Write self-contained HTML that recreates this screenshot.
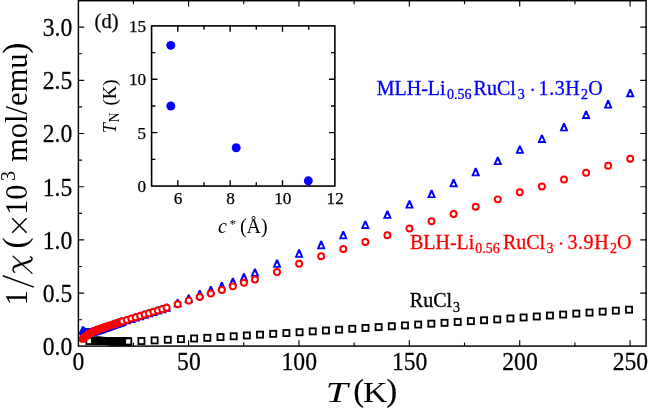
<!DOCTYPE html>
<html><head><meta charset="utf-8"><title>chart</title>
<style>html,body{margin:0;padding:0;background:#fff;}body{width:648px;height:410px;position:relative;overflow:hidden;font-family:"Liberation Serif",serif;}</style></head>
<body>
<svg width="648" height="410" viewBox="0 0 648 410" style="display:block;position:absolute;left:0;top:0;will-change:transform">
<rect x="0" y="0" width="648" height="410" fill="#fff"/>
<g id="blk">
<rect x="86.34" y="337.93" width="6.10" height="6.10" fill="#fff" stroke="#000" stroke-width="1.8"/>
<rect x="91.86" y="337.66" width="6.10" height="6.10" fill="#fff" stroke="#000" stroke-width="1.8"/>
<rect x="92.96" y="337.61" width="6.10" height="6.10" fill="#fff" stroke="#000" stroke-width="1.8"/>
<rect x="94.06" y="337.66" width="6.10" height="6.10" fill="#fff" stroke="#000" stroke-width="1.8"/>
<rect x="95.17" y="337.70" width="6.10" height="6.10" fill="#fff" stroke="#000" stroke-width="1.8"/>
<rect x="96.27" y="337.74" width="6.10" height="6.10" fill="#fff" stroke="#000" stroke-width="1.8"/>
<rect x="97.38" y="337.79" width="6.10" height="6.10" fill="#fff" stroke="#000" stroke-width="1.8"/>
<rect x="98.48" y="337.83" width="6.10" height="6.10" fill="#fff" stroke="#000" stroke-width="1.8"/>
<rect x="99.58" y="337.88" width="6.10" height="6.10" fill="#fff" stroke="#000" stroke-width="1.8"/>
<rect x="100.69" y="337.92" width="6.10" height="6.10" fill="#fff" stroke="#000" stroke-width="1.8"/>
<rect x="101.79" y="337.97" width="6.10" height="6.10" fill="#fff" stroke="#000" stroke-width="1.8"/>
<rect x="102.89" y="338.01" width="6.10" height="6.10" fill="#fff" stroke="#000" stroke-width="1.8"/>
<rect x="104.00" y="338.05" width="6.10" height="6.10" fill="#fff" stroke="#000" stroke-width="1.8"/>
<rect x="105.10" y="338.10" width="6.10" height="6.10" fill="#fff" stroke="#000" stroke-width="1.8"/>
<rect x="106.21" y="338.14" width="6.10" height="6.10" fill="#fff" stroke="#000" stroke-width="1.8"/>
<rect x="107.31" y="338.16" width="6.10" height="6.10" fill="#fff" stroke="#000" stroke-width="1.8"/>
<rect x="108.41" y="338.18" width="6.10" height="6.10" fill="#fff" stroke="#000" stroke-width="1.8"/>
<rect x="109.52" y="338.20" width="6.10" height="6.10" fill="#fff" stroke="#000" stroke-width="1.8"/>
<rect x="110.62" y="338.22" width="6.10" height="6.10" fill="#fff" stroke="#000" stroke-width="1.8"/>
<rect x="111.72" y="338.24" width="6.10" height="6.10" fill="#fff" stroke="#000" stroke-width="1.8"/>
<rect x="112.83" y="338.26" width="6.10" height="6.10" fill="#fff" stroke="#000" stroke-width="1.8"/>
<rect x="113.93" y="338.28" width="6.10" height="6.10" fill="#fff" stroke="#000" stroke-width="1.8"/>
<rect x="115.04" y="338.30" width="6.10" height="6.10" fill="#fff" stroke="#000" stroke-width="1.8"/>
<rect x="116.14" y="338.32" width="6.10" height="6.10" fill="#fff" stroke="#000" stroke-width="1.8"/>
<rect x="117.24" y="338.34" width="6.10" height="6.10" fill="#fff" stroke="#000" stroke-width="1.8"/>
<rect x="118.35" y="338.36" width="6.10" height="6.10" fill="#fff" stroke="#000" stroke-width="1.8"/>
<rect x="119.45" y="338.38" width="6.10" height="6.10" fill="#fff" stroke="#000" stroke-width="1.8"/>
<rect x="120.55" y="338.40" width="6.10" height="6.10" fill="#fff" stroke="#000" stroke-width="1.8"/>
<rect x="121.66" y="338.42" width="6.10" height="6.10" fill="#fff" stroke="#000" stroke-width="1.8"/>
<rect x="122.76" y="338.44" width="6.10" height="6.10" fill="#fff" stroke="#000" stroke-width="1.8"/>
<rect x="123.87" y="338.46" width="6.10" height="6.10" fill="#fff" stroke="#000" stroke-width="1.8"/>
<rect x="124.97" y="338.41" width="6.10" height="6.10" fill="#fff" stroke="#000" stroke-width="1.8"/>
<rect x="125.19" y="338.40" width="6.10" height="6.10" fill="#fff" stroke="#000" stroke-width="1.8"/>
<rect x="138.37" y="337.96" width="6.10" height="6.10" fill="#fff" stroke="#000" stroke-width="1.8"/>
<rect x="151.55" y="337.34" width="6.10" height="6.10" fill="#fff" stroke="#000" stroke-width="1.8"/>
<rect x="164.73" y="336.71" width="6.10" height="6.10" fill="#fff" stroke="#000" stroke-width="1.8"/>
<rect x="177.90" y="336.07" width="6.10" height="6.10" fill="#fff" stroke="#000" stroke-width="1.8"/>
<rect x="191.08" y="335.43" width="6.10" height="6.10" fill="#fff" stroke="#000" stroke-width="1.8"/>
<rect x="204.26" y="334.80" width="6.10" height="6.10" fill="#fff" stroke="#000" stroke-width="1.8"/>
<rect x="217.44" y="334.04" width="6.10" height="6.10" fill="#fff" stroke="#000" stroke-width="1.8"/>
<rect x="230.62" y="333.23" width="6.10" height="6.10" fill="#fff" stroke="#000" stroke-width="1.8"/>
<rect x="243.80" y="332.42" width="6.10" height="6.10" fill="#fff" stroke="#000" stroke-width="1.8"/>
<rect x="256.98" y="331.61" width="6.10" height="6.10" fill="#fff" stroke="#000" stroke-width="1.8"/>
<rect x="270.16" y="330.80" width="6.10" height="6.10" fill="#fff" stroke="#000" stroke-width="1.8"/>
<rect x="283.33" y="329.99" width="6.10" height="6.10" fill="#fff" stroke="#000" stroke-width="1.8"/>
<rect x="296.51" y="329.18" width="6.10" height="6.10" fill="#fff" stroke="#000" stroke-width="1.8"/>
<rect x="309.69" y="328.32" width="6.10" height="6.10" fill="#fff" stroke="#000" stroke-width="1.8"/>
<rect x="322.87" y="327.47" width="6.10" height="6.10" fill="#fff" stroke="#000" stroke-width="1.8"/>
<rect x="336.05" y="326.61" width="6.10" height="6.10" fill="#fff" stroke="#000" stroke-width="1.8"/>
<rect x="349.23" y="325.76" width="6.10" height="6.10" fill="#fff" stroke="#000" stroke-width="1.8"/>
<rect x="362.41" y="324.91" width="6.10" height="6.10" fill="#fff" stroke="#000" stroke-width="1.8"/>
<rect x="375.59" y="324.05" width="6.10" height="6.10" fill="#fff" stroke="#000" stroke-width="1.8"/>
<rect x="388.76" y="323.20" width="6.10" height="6.10" fill="#fff" stroke="#000" stroke-width="1.8"/>
<rect x="401.94" y="322.34" width="6.10" height="6.10" fill="#fff" stroke="#000" stroke-width="1.8"/>
<rect x="415.12" y="321.49" width="6.10" height="6.10" fill="#fff" stroke="#000" stroke-width="1.8"/>
<rect x="428.30" y="320.64" width="6.10" height="6.10" fill="#fff" stroke="#000" stroke-width="1.8"/>
<rect x="441.48" y="319.78" width="6.10" height="6.10" fill="#fff" stroke="#000" stroke-width="1.8"/>
<rect x="454.66" y="318.93" width="6.10" height="6.10" fill="#fff" stroke="#000" stroke-width="1.8"/>
<rect x="467.84" y="318.07" width="6.10" height="6.10" fill="#fff" stroke="#000" stroke-width="1.8"/>
<rect x="481.02" y="317.22" width="6.10" height="6.10" fill="#fff" stroke="#000" stroke-width="1.8"/>
<rect x="494.20" y="316.37" width="6.10" height="6.10" fill="#fff" stroke="#000" stroke-width="1.8"/>
<rect x="507.37" y="315.40" width="6.10" height="6.10" fill="#fff" stroke="#000" stroke-width="1.8"/>
<rect x="520.55" y="314.42" width="6.10" height="6.10" fill="#fff" stroke="#000" stroke-width="1.8"/>
<rect x="533.73" y="313.45" width="6.10" height="6.10" fill="#fff" stroke="#000" stroke-width="1.8"/>
<rect x="546.91" y="312.47" width="6.10" height="6.10" fill="#fff" stroke="#000" stroke-width="1.8"/>
<rect x="560.09" y="311.50" width="6.10" height="6.10" fill="#fff" stroke="#000" stroke-width="1.8"/>
<rect x="573.27" y="310.53" width="6.10" height="6.10" fill="#fff" stroke="#000" stroke-width="1.8"/>
<rect x="586.45" y="309.55" width="6.10" height="6.10" fill="#fff" stroke="#000" stroke-width="1.8"/>
<rect x="599.63" y="308.58" width="6.10" height="6.10" fill="#fff" stroke="#000" stroke-width="1.8"/>
<rect x="612.80" y="307.60" width="6.10" height="6.10" fill="#fff" stroke="#000" stroke-width="1.8"/>
<rect x="625.98" y="306.63" width="6.10" height="6.10" fill="#fff" stroke="#000" stroke-width="1.8"/>
</g>
<g id="blue">
<path d="M78.32 334.49L87.22 334.49L83.67 326.19L81.87 326.19ZM81.27 332.54L84.27 332.54L82.77 329.84Z" fill="#0000ff" fill-rule="evenodd"/><path d="M81.27 332.54L84.27 332.54L82.77 329.84Z" fill="#fff"/>
<path d="M79.42 335.45L88.32 335.45L84.77 327.15L82.97 327.15ZM82.37 333.50L85.37 333.50L83.87 330.80Z" fill="#0000ff" fill-rule="evenodd"/><path d="M82.37 333.50L85.37 333.50L83.87 330.80Z" fill="#fff"/>
<path d="M80.52 336.09L89.42 336.09L85.87 327.79L84.07 327.79ZM83.47 334.14L86.47 334.14L84.97 331.44Z" fill="#0000ff" fill-rule="evenodd"/><path d="M83.47 334.14L86.47 334.14L84.97 331.44Z" fill="#fff"/>
<path d="M81.63 336.30L90.53 336.30L86.98 328.00L85.18 328.00ZM84.58 334.35L87.58 334.35L86.08 331.65Z" fill="#0000ff" fill-rule="evenodd"/><path d="M84.58 334.35L87.58 334.35L86.08 331.65Z" fill="#fff"/>
<path d="M82.73 336.51L91.63 336.51L88.08 328.21L86.28 328.21ZM85.68 334.56L88.68 334.56L87.18 331.86Z" fill="#0000ff" fill-rule="evenodd"/><path d="M85.68 334.56L88.68 334.56L87.18 331.86Z" fill="#fff"/>
<path d="M83.83 336.41L92.73 336.41L89.18 328.11L87.38 328.11ZM86.78 334.46L89.78 334.46L88.28 331.76Z" fill="#0000ff" fill-rule="evenodd"/><path d="M86.78 334.46L89.78 334.46L88.28 331.76Z" fill="#fff"/>
<path d="M84.94 336.30L93.84 336.30L90.29 328.00L88.49 328.00ZM87.89 334.35L90.89 334.35L89.39 331.65Z" fill="#0000ff" fill-rule="evenodd"/><path d="M87.89 334.35L90.89 334.35L89.39 331.65Z" fill="#fff"/>
<path d="M86.04 336.19L94.94 336.19L91.39 327.89L89.59 327.89ZM88.99 334.24L91.99 334.24L90.49 331.54Z" fill="#0000ff" fill-rule="evenodd"/><path d="M88.99 334.24L91.99 334.24L90.49 331.54Z" fill="#fff"/>
<path d="M87.15 336.09L96.05 336.09L92.50 327.79L90.70 327.79ZM90.10 334.14L93.10 334.14L91.60 331.44Z" fill="#0000ff" fill-rule="evenodd"/><path d="M90.10 334.14L93.10 334.14L91.60 331.44Z" fill="#fff"/>
<path d="M88.25 335.77L97.15 335.77L93.60 327.47L91.80 327.47ZM91.20 333.82L94.20 333.82L92.70 331.12Z" fill="#0000ff" fill-rule="evenodd"/><path d="M91.20 333.82L94.20 333.82L92.70 331.12Z" fill="#fff"/>
<path d="M89.35 335.45L98.25 335.45L94.70 327.15L92.90 327.15ZM92.30 333.50L95.30 333.50L93.80 330.80Z" fill="#0000ff" fill-rule="evenodd"/><path d="M92.30 333.50L95.30 333.50L93.80 330.80Z" fill="#fff"/>
<path d="M90.46 335.13L99.36 335.13L95.81 326.83L94.01 326.83ZM93.41 333.18L96.41 333.18L94.91 330.48Z" fill="#0000ff" fill-rule="evenodd"/><path d="M93.41 333.18L96.41 333.18L94.91 330.48Z" fill="#fff"/>
<path d="M91.56 334.81L100.46 334.81L96.91 326.51L95.11 326.51ZM94.51 332.86L97.51 332.86L96.01 330.16Z" fill="#0000ff" fill-rule="evenodd"/><path d="M94.51 332.86L97.51 332.86L96.01 330.16Z" fill="#fff"/>
<path d="M92.66 334.49L101.56 334.49L98.01 326.19L96.21 326.19ZM95.61 332.54L98.61 332.54L97.11 329.84Z" fill="#0000ff" fill-rule="evenodd"/><path d="M95.61 332.54L98.61 332.54L97.11 329.84Z" fill="#fff"/>
<path d="M93.77 334.17L102.67 334.17L99.12 325.87L97.32 325.87ZM96.72 332.22L99.72 332.22L98.22 329.52Z" fill="#0000ff" fill-rule="evenodd"/><path d="M96.72 332.22L99.72 332.22L98.22 329.52Z" fill="#fff"/>
<path d="M94.87 333.85L103.77 333.85L100.22 325.55L98.42 325.55ZM97.82 331.90L100.82 331.90L99.32 329.20Z" fill="#0000ff" fill-rule="evenodd"/><path d="M97.82 331.90L100.82 331.90L99.32 329.20Z" fill="#fff"/>
<path d="M95.98 333.53L104.88 333.53L101.33 325.23L99.53 325.23ZM98.93 331.58L101.93 331.58L100.43 328.88Z" fill="#0000ff" fill-rule="evenodd"/><path d="M98.93 331.58L101.93 331.58L100.43 328.88Z" fill="#fff"/>
<path d="M97.08 333.14L105.98 333.14L102.43 324.84L100.63 324.84ZM100.03 331.19L103.03 331.19L101.53 328.49Z" fill="#0000ff" fill-rule="evenodd"/><path d="M100.03 331.19L103.03 331.19L101.53 328.49Z" fill="#fff"/>
<path d="M98.18 332.76L107.08 332.76L103.53 324.46L101.73 324.46ZM101.13 330.81L104.13 330.81L102.63 328.11Z" fill="#0000ff" fill-rule="evenodd"/><path d="M101.13 330.81L104.13 330.81L102.63 328.11Z" fill="#fff"/>
<path d="M99.29 332.37L108.19 332.37L104.64 324.07L102.84 324.07ZM102.24 330.42L105.24 330.42L103.74 327.72Z" fill="#0000ff" fill-rule="evenodd"/><path d="M102.24 330.42L105.24 330.42L103.74 327.72Z" fill="#fff"/>
<path d="M100.39 331.98L109.29 331.98L105.74 323.68L103.94 323.68ZM103.34 330.03L106.34 330.03L104.84 327.33Z" fill="#0000ff" fill-rule="evenodd"/><path d="M103.34 330.03L106.34 330.03L104.84 327.33Z" fill="#fff"/>
<path d="M101.49 331.59L110.39 331.59L106.84 323.29L105.04 323.29ZM104.44 329.64L107.44 329.64L105.94 326.94Z" fill="#0000ff" fill-rule="evenodd"/><path d="M104.44 329.64L107.44 329.64L105.94 326.94Z" fill="#fff"/>
<path d="M102.60 331.20L111.50 331.20L107.95 322.90L106.15 322.90ZM105.55 329.25L108.55 329.25L107.05 326.55Z" fill="#0000ff" fill-rule="evenodd"/><path d="M105.55 329.25L108.55 329.25L107.05 326.55Z" fill="#fff"/>
<path d="M103.70 330.81L112.60 330.81L109.05 322.51L107.25 322.51ZM106.65 328.86L109.65 328.86L108.15 326.16Z" fill="#0000ff" fill-rule="evenodd"/><path d="M106.65 328.86L109.65 328.86L108.15 326.16Z" fill="#fff"/>
<path d="M104.81 330.43L113.71 330.43L110.16 322.13L108.36 322.13ZM107.76 328.48L110.76 328.48L109.26 325.78Z" fill="#0000ff" fill-rule="evenodd"/><path d="M107.76 328.48L110.76 328.48L109.26 325.78Z" fill="#fff"/>
<path d="M105.91 330.04L114.81 330.04L111.26 321.74L109.46 321.74ZM108.86 328.09L111.86 328.09L110.36 325.39Z" fill="#0000ff" fill-rule="evenodd"/><path d="M108.86 328.09L111.86 328.09L110.36 325.39Z" fill="#fff"/>
<path d="M107.01 329.65L115.91 329.65L112.36 321.35L110.56 321.35ZM109.96 327.70L112.96 327.70L111.46 325.00Z" fill="#0000ff" fill-rule="evenodd"/><path d="M109.96 327.70L112.96 327.70L111.46 325.00Z" fill="#fff"/>
<path d="M108.12 329.26L117.02 329.26L113.47 320.96L111.67 320.96ZM111.07 327.31L114.07 327.31L112.57 324.61Z" fill="#0000ff" fill-rule="evenodd"/><path d="M111.07 327.31L114.07 327.31L112.57 324.61Z" fill="#fff"/>
<path d="M109.22 328.87L118.12 328.87L114.57 320.57L112.77 320.57ZM112.17 326.92L115.17 326.92L113.67 324.22Z" fill="#0000ff" fill-rule="evenodd"/><path d="M112.17 326.92L115.17 326.92L113.67 324.22Z" fill="#fff"/>
<path d="M110.32 328.48L119.22 328.48L115.67 320.18L113.87 320.18ZM113.27 326.53L116.27 326.53L114.77 323.83Z" fill="#0000ff" fill-rule="evenodd"/><path d="M113.27 326.53L116.27 326.53L114.77 323.83Z" fill="#fff"/>
<path d="M111.43 328.10L120.33 328.10L116.78 319.80L114.98 319.80ZM114.38 326.15L117.38 326.15L115.88 323.45Z" fill="#0000ff" fill-rule="evenodd"/><path d="M114.38 326.15L117.38 326.15L115.88 323.45Z" fill="#fff"/>
<path d="M112.53 327.71L121.43 327.71L117.88 319.41L116.08 319.41ZM115.48 325.76L118.48 325.76L116.98 323.06Z" fill="#0000ff" fill-rule="evenodd"/><path d="M115.48 325.76L118.48 325.76L116.98 323.06Z" fill="#fff"/>
<path d="M113.64 327.32L122.54 327.32L118.99 319.02L117.19 319.02ZM116.59 325.37L119.59 325.37L118.09 322.67Z" fill="#0000ff" fill-rule="evenodd"/><path d="M116.59 325.37L119.59 325.37L118.09 322.67Z" fill="#fff"/>
<path d="M114.74 326.93L123.64 326.93L120.09 318.63L118.29 318.63ZM117.69 324.98L120.69 324.98L119.19 322.28Z" fill="#0000ff" fill-rule="evenodd"/><path d="M117.69 324.98L120.69 324.98L119.19 322.28Z" fill="#fff"/>
<path d="M115.84 326.54L124.74 326.54L121.19 318.24L119.39 318.24ZM118.79 324.59L121.79 324.59L120.29 321.89Z" fill="#0000ff" fill-rule="evenodd"/><path d="M118.79 324.59L121.79 324.59L120.29 321.89Z" fill="#fff"/>
<path d="M116.95 326.15L125.85 326.15L122.30 317.85L120.50 317.85ZM119.90 324.20L122.90 324.20L121.40 321.50Z" fill="#0000ff" fill-rule="evenodd"/><path d="M119.90 324.20L122.90 324.20L121.40 321.50Z" fill="#fff"/>
<path d="M118.05 325.77L126.95 325.77L123.40 317.47L121.60 317.47ZM121.00 323.82L124.00 323.82L122.50 321.12Z" fill="#0000ff" fill-rule="evenodd"/><path d="M121.00 323.82L124.00 323.82L122.50 321.12Z" fill="#fff"/>
<path d="M122.47 324.36L131.37 324.36L127.82 316.06L126.02 316.06ZM125.42 322.41L128.42 322.41L126.92 319.71Z" fill="#0000ff" fill-rule="evenodd"/><path d="M125.42 322.41L128.42 322.41L126.92 319.71Z" fill="#fff"/>
<path d="M126.88 322.96L135.78 322.96L132.23 314.66L130.43 314.66ZM129.83 321.01L132.83 321.01L131.33 318.31Z" fill="#0000ff" fill-rule="evenodd"/><path d="M129.83 321.01L132.83 321.01L131.33 318.31Z" fill="#fff"/>
<path d="M131.30 321.55L140.19 321.55L136.65 313.25L134.84 313.25ZM134.25 319.60L137.25 319.60L135.75 316.90Z" fill="#0000ff" fill-rule="evenodd"/><path d="M134.25 319.60L137.25 319.60L135.75 316.90Z" fill="#fff"/>
<path d="M135.71 320.15L144.61 320.15L141.06 311.85L139.26 311.85ZM138.66 318.20L141.66 318.20L140.16 315.50Z" fill="#0000ff" fill-rule="evenodd"/><path d="M138.66 318.20L141.66 318.20L140.16 315.50Z" fill="#fff"/>
<path d="M140.12 318.74L149.02 318.74L145.47 310.44L143.67 310.44ZM143.07 316.79L146.07 316.79L144.57 314.09Z" fill="#0000ff" fill-rule="evenodd"/><path d="M143.07 316.79L146.07 316.79L144.57 314.09Z" fill="#fff"/>
<path d="M144.54 317.36L153.44 317.36L149.89 309.06L148.09 309.06ZM147.49 315.41L150.49 315.41L148.99 312.71Z" fill="#0000ff" fill-rule="evenodd"/><path d="M147.49 315.41L150.49 315.41L148.99 312.71Z" fill="#fff"/>
<path d="M148.96 315.98L157.86 315.98L154.31 307.68L152.51 307.68ZM151.91 314.03L154.91 314.03L153.41 311.33Z" fill="#0000ff" fill-rule="evenodd"/><path d="M151.91 314.03L154.91 314.03L153.41 311.33Z" fill="#fff"/>
<path d="M153.37 314.59L162.27 314.59L158.72 306.29L156.92 306.29ZM156.32 312.64L159.32 312.64L157.82 309.94Z" fill="#0000ff" fill-rule="evenodd"/><path d="M156.32 312.64L159.32 312.64L157.82 309.94Z" fill="#fff"/>
<path d="M157.79 313.21L166.69 313.21L163.14 304.91L161.34 304.91ZM160.74 311.26L163.74 311.26L162.24 308.56Z" fill="#0000ff" fill-rule="evenodd"/><path d="M160.74 311.26L163.74 311.26L162.24 308.56Z" fill="#fff"/>
<path d="M162.20 311.83L171.10 311.83L167.55 303.53L165.75 303.53ZM165.15 309.88L168.15 309.88L166.65 307.18Z" fill="#0000ff" fill-rule="evenodd"/><path d="M165.15 309.88L168.15 309.88L166.65 307.18Z" fill="#fff"/>
<path d="M173.24 307.36L182.14 307.36L178.59 299.06L176.79 299.06ZM176.19 305.41L179.19 305.41L177.69 302.71Z" fill="#0000ff" fill-rule="evenodd"/><path d="M176.19 305.41L179.19 305.41L177.69 302.71Z" fill="#fff"/>
<path d="M184.28 302.68L193.18 302.68L189.63 294.38L187.83 294.38ZM187.23 300.73L190.23 300.73L188.73 298.03Z" fill="#0000ff" fill-rule="evenodd"/><path d="M187.23 300.73L190.23 300.73L188.73 298.03Z" fill="#fff"/>
<path d="M195.31 298.42L204.21 298.42L200.66 290.12L198.86 290.12ZM198.26 296.47L201.26 296.47L199.76 293.77Z" fill="#0000ff" fill-rule="evenodd"/><path d="M198.26 296.47L201.26 296.47L199.76 293.77Z" fill="#fff"/>
<path d="M206.35 294.27L215.25 294.27L211.70 285.97L209.90 285.97ZM209.30 292.32L212.30 292.32L210.80 289.62Z" fill="#0000ff" fill-rule="evenodd"/><path d="M209.30 292.32L212.30 292.32L210.80 289.62Z" fill="#fff"/>
<path d="M217.39 290.33L226.29 290.33L222.74 282.03L220.94 282.03ZM220.34 288.38L223.34 288.38L221.84 285.68Z" fill="#0000ff" fill-rule="evenodd"/><path d="M220.34 288.38L223.34 288.38L221.84 285.68Z" fill="#fff"/>
<path d="M228.43 286.08L237.32 286.08L233.78 277.78L231.97 277.78ZM231.38 284.13L234.38 284.13L232.88 281.43Z" fill="#0000ff" fill-rule="evenodd"/><path d="M231.38 284.13L234.38 284.13L232.88 281.43Z" fill="#fff"/>
<path d="M239.46 281.61L248.36 281.61L244.81 273.31L243.01 273.31ZM242.41 279.66L245.41 279.66L243.91 276.96Z" fill="#0000ff" fill-rule="evenodd"/><path d="M242.41 279.66L245.41 279.66L243.91 276.96Z" fill="#fff"/>
<path d="M250.50 276.82L259.40 276.82L255.85 268.52L254.05 268.52ZM253.45 274.87L256.45 274.87L254.95 272.17Z" fill="#0000ff" fill-rule="evenodd"/><path d="M253.45 274.87L256.45 274.87L254.95 272.17Z" fill="#fff"/>
<path d="M272.58 267.78L281.48 267.78L277.93 259.48L276.13 259.48ZM275.53 265.83L278.53 265.83L277.03 263.13Z" fill="#0000ff" fill-rule="evenodd"/><path d="M275.53 265.83L278.53 265.83L277.03 263.13Z" fill="#fff"/>
<path d="M294.65 257.67L303.55 257.67L300.00 249.37L298.20 249.37ZM297.60 255.72L300.60 255.72L299.10 253.02Z" fill="#0000ff" fill-rule="evenodd"/><path d="M297.60 255.72L300.60 255.72L299.10 253.02Z" fill="#fff"/>
<path d="M316.73 249.16L325.62 249.16L322.07 240.86L320.28 240.86ZM319.68 247.21L322.68 247.21L321.18 244.51Z" fill="#0000ff" fill-rule="evenodd"/><path d="M319.68 247.21L322.68 247.21L321.18 244.51Z" fill="#fff"/>
<path d="M338.80 239.26L347.70 239.26L344.15 230.96L342.35 230.96ZM341.75 237.31L344.75 237.31L343.25 234.61Z" fill="#0000ff" fill-rule="evenodd"/><path d="M341.75 237.31L344.75 237.31L343.25 234.61Z" fill="#fff"/>
<path d="M360.88 228.94L369.78 228.94L366.23 220.64L364.43 220.64ZM363.83 226.99L366.83 226.99L365.33 224.29Z" fill="#0000ff" fill-rule="evenodd"/><path d="M363.83 226.99L366.83 226.99L365.33 224.29Z" fill="#fff"/>
<path d="M382.95 218.83L391.85 218.83L388.30 210.53L386.50 210.53ZM385.90 216.88L388.90 216.88L387.40 214.18Z" fill="#0000ff" fill-rule="evenodd"/><path d="M385.90 216.88L388.90 216.88L387.40 214.18Z" fill="#fff"/>
<path d="M405.03 208.62L413.93 208.62L410.38 200.32L408.58 200.32ZM407.98 206.67L410.98 206.67L409.48 203.97Z" fill="#0000ff" fill-rule="evenodd"/><path d="M407.98 206.67L410.98 206.67L409.48 203.97Z" fill="#fff"/>
<path d="M427.10 198.09L436.00 198.09L432.45 189.79L430.65 189.79ZM430.05 196.14L433.05 196.14L431.55 193.44Z" fill="#0000ff" fill-rule="evenodd"/><path d="M430.05 196.14L433.05 196.14L431.55 193.44Z" fill="#fff"/>
<path d="M449.18 187.23L458.07 187.23L454.52 178.93L452.73 178.93ZM452.12 185.28L455.12 185.28L453.62 182.58Z" fill="#0000ff" fill-rule="evenodd"/><path d="M452.12 185.28L455.12 185.28L453.62 182.58Z" fill="#fff"/>
<path d="M471.25 176.17L480.15 176.17L476.60 167.87L474.80 167.87ZM474.20 174.22L477.20 174.22L475.70 171.52Z" fill="#0000ff" fill-rule="evenodd"/><path d="M474.20 174.22L477.20 174.22L475.70 171.52Z" fill="#fff"/>
<path d="M493.33 165.10L502.23 165.10L498.68 156.80L496.88 156.80ZM496.28 163.15L499.28 163.15L497.78 160.45Z" fill="#0000ff" fill-rule="evenodd"/><path d="M496.28 163.15L499.28 163.15L497.78 160.45Z" fill="#fff"/>
<path d="M515.40 153.82L524.30 153.82L520.75 145.52L518.95 145.52ZM518.35 151.87L521.35 151.87L519.85 149.17Z" fill="#0000ff" fill-rule="evenodd"/><path d="M518.35 151.87L521.35 151.87L519.85 149.17Z" fill="#fff"/>
<path d="M537.47 142.97L546.38 142.97L542.82 134.67L541.02 134.67ZM540.42 141.02L543.42 141.02L541.92 138.32Z" fill="#0000ff" fill-rule="evenodd"/><path d="M540.42 141.02L543.42 141.02L541.92 138.32Z" fill="#fff"/>
<path d="M559.55 131.37L568.45 131.37L564.90 123.07L563.10 123.07ZM562.50 129.42L565.50 129.42L564.00 126.72Z" fill="#0000ff" fill-rule="evenodd"/><path d="M562.50 129.42L565.50 129.42L564.00 126.72Z" fill="#fff"/>
<path d="M581.62 119.03L590.53 119.03L586.98 110.73L585.18 110.73ZM584.58 117.08L587.58 117.08L586.08 114.38Z" fill="#0000ff" fill-rule="evenodd"/><path d="M584.58 117.08L587.58 117.08L586.08 114.38Z" fill="#fff"/>
<path d="M603.70 108.39L612.60 108.39L609.05 100.09L607.25 100.09ZM606.65 106.44L609.65 106.44L608.15 103.74Z" fill="#0000ff" fill-rule="evenodd"/><path d="M606.65 106.44L609.65 106.44L608.15 103.74Z" fill="#fff"/>
<path d="M625.77 97.22L634.68 97.22L631.12 88.92L629.33 88.92ZM628.73 95.27L631.73 95.27L630.23 92.57Z" fill="#0000ff" fill-rule="evenodd"/><path d="M628.73 95.27L631.73 95.27L630.23 92.57Z" fill="#fff"/>
</g>
<g id="red">
<circle cx="82.77" cy="338.96" r="3.0" fill="#fff" stroke="#ff0000" stroke-width="1.95"/>
<circle cx="83.87" cy="338.02" r="3.0" fill="#fff" stroke="#ff0000" stroke-width="1.95"/>
<circle cx="84.97" cy="337.08" r="3.0" fill="#fff" stroke="#ff0000" stroke-width="1.95"/>
<circle cx="86.08" cy="336.14" r="3.0" fill="#fff" stroke="#ff0000" stroke-width="1.95"/>
<circle cx="87.18" cy="335.20" r="3.0" fill="#fff" stroke="#ff0000" stroke-width="1.95"/>
<circle cx="88.28" cy="334.26" r="3.0" fill="#fff" stroke="#ff0000" stroke-width="1.95"/>
<circle cx="89.39" cy="333.32" r="3.0" fill="#fff" stroke="#ff0000" stroke-width="1.95"/>
<circle cx="90.49" cy="332.85" r="3.0" fill="#fff" stroke="#ff0000" stroke-width="1.95"/>
<circle cx="91.60" cy="332.37" r="3.0" fill="#fff" stroke="#ff0000" stroke-width="1.95"/>
<circle cx="92.70" cy="331.90" r="3.0" fill="#fff" stroke="#ff0000" stroke-width="1.95"/>
<circle cx="93.80" cy="331.43" r="3.0" fill="#fff" stroke="#ff0000" stroke-width="1.95"/>
<circle cx="94.91" cy="330.95" r="3.0" fill="#fff" stroke="#ff0000" stroke-width="1.95"/>
<circle cx="96.01" cy="330.48" r="3.0" fill="#fff" stroke="#ff0000" stroke-width="1.95"/>
<circle cx="97.11" cy="330.01" r="3.0" fill="#fff" stroke="#ff0000" stroke-width="1.95"/>
<circle cx="98.22" cy="329.54" r="3.0" fill="#fff" stroke="#ff0000" stroke-width="1.95"/>
<circle cx="99.32" cy="329.06" r="3.0" fill="#fff" stroke="#ff0000" stroke-width="1.95"/>
<circle cx="100.43" cy="328.69" r="3.0" fill="#fff" stroke="#ff0000" stroke-width="1.95"/>
<circle cx="101.53" cy="328.32" r="3.0" fill="#fff" stroke="#ff0000" stroke-width="1.95"/>
<circle cx="102.63" cy="327.95" r="3.0" fill="#fff" stroke="#ff0000" stroke-width="1.95"/>
<circle cx="103.74" cy="327.58" r="3.0" fill="#fff" stroke="#ff0000" stroke-width="1.95"/>
<circle cx="104.84" cy="327.21" r="3.0" fill="#fff" stroke="#ff0000" stroke-width="1.95"/>
<circle cx="105.94" cy="326.84" r="3.0" fill="#fff" stroke="#ff0000" stroke-width="1.95"/>
<circle cx="107.05" cy="326.47" r="3.0" fill="#fff" stroke="#ff0000" stroke-width="1.95"/>
<circle cx="108.15" cy="326.10" r="3.0" fill="#fff" stroke="#ff0000" stroke-width="1.95"/>
<circle cx="109.26" cy="325.73" r="3.0" fill="#fff" stroke="#ff0000" stroke-width="1.95"/>
<circle cx="110.36" cy="325.36" r="3.0" fill="#fff" stroke="#ff0000" stroke-width="1.95"/>
<circle cx="111.46" cy="324.99" r="3.0" fill="#fff" stroke="#ff0000" stroke-width="1.95"/>
<circle cx="112.57" cy="324.62" r="3.0" fill="#fff" stroke="#ff0000" stroke-width="1.95"/>
<circle cx="113.67" cy="324.25" r="3.0" fill="#fff" stroke="#ff0000" stroke-width="1.95"/>
<circle cx="114.77" cy="323.89" r="3.0" fill="#fff" stroke="#ff0000" stroke-width="1.95"/>
<circle cx="115.88" cy="323.52" r="3.0" fill="#fff" stroke="#ff0000" stroke-width="1.95"/>
<circle cx="116.98" cy="323.15" r="3.0" fill="#fff" stroke="#ff0000" stroke-width="1.95"/>
<circle cx="118.09" cy="322.78" r="3.0" fill="#fff" stroke="#ff0000" stroke-width="1.95"/>
<circle cx="119.19" cy="322.41" r="3.0" fill="#fff" stroke="#ff0000" stroke-width="1.95"/>
<circle cx="120.29" cy="322.04" r="3.0" fill="#fff" stroke="#ff0000" stroke-width="1.95"/>
<circle cx="121.40" cy="321.67" r="3.0" fill="#fff" stroke="#ff0000" stroke-width="1.95"/>
<circle cx="122.50" cy="321.30" r="3.0" fill="#fff" stroke="#ff0000" stroke-width="1.95"/>
<circle cx="126.92" cy="319.94" r="3.0" fill="#fff" stroke="#ff0000" stroke-width="1.95"/>
<circle cx="131.33" cy="318.59" r="3.0" fill="#fff" stroke="#ff0000" stroke-width="1.95"/>
<circle cx="135.75" cy="317.24" r="3.0" fill="#fff" stroke="#ff0000" stroke-width="1.95"/>
<circle cx="140.16" cy="315.89" r="3.0" fill="#fff" stroke="#ff0000" stroke-width="1.95"/>
<circle cx="144.57" cy="314.54" r="3.0" fill="#fff" stroke="#ff0000" stroke-width="1.95"/>
<circle cx="148.99" cy="313.19" r="3.0" fill="#fff" stroke="#ff0000" stroke-width="1.95"/>
<circle cx="153.41" cy="311.84" r="3.0" fill="#fff" stroke="#ff0000" stroke-width="1.95"/>
<circle cx="157.82" cy="310.49" r="3.0" fill="#fff" stroke="#ff0000" stroke-width="1.95"/>
<circle cx="162.24" cy="309.13" r="3.0" fill="#fff" stroke="#ff0000" stroke-width="1.95"/>
<circle cx="166.65" cy="307.78" r="3.0" fill="#fff" stroke="#ff0000" stroke-width="1.95"/>
<circle cx="177.69" cy="304.21" r="3.0" fill="#fff" stroke="#ff0000" stroke-width="1.95"/>
<circle cx="188.73" cy="300.64" r="3.0" fill="#fff" stroke="#ff0000" stroke-width="1.95"/>
<circle cx="199.76" cy="297.07" r="3.0" fill="#fff" stroke="#ff0000" stroke-width="1.95"/>
<circle cx="210.80" cy="293.50" r="3.0" fill="#fff" stroke="#ff0000" stroke-width="1.95"/>
<circle cx="221.84" cy="289.92" r="3.0" fill="#fff" stroke="#ff0000" stroke-width="1.95"/>
<circle cx="232.88" cy="286.35" r="3.0" fill="#fff" stroke="#ff0000" stroke-width="1.95"/>
<circle cx="243.91" cy="282.78" r="3.0" fill="#fff" stroke="#ff0000" stroke-width="1.95"/>
<circle cx="254.95" cy="279.48" r="3.0" fill="#fff" stroke="#ff0000" stroke-width="1.95"/>
<circle cx="277.03" cy="271.93" r="3.0" fill="#fff" stroke="#ff0000" stroke-width="1.95"/>
<circle cx="299.10" cy="263.84" r="3.0" fill="#fff" stroke="#ff0000" stroke-width="1.95"/>
<circle cx="321.18" cy="256.29" r="3.0" fill="#fff" stroke="#ff0000" stroke-width="1.95"/>
<circle cx="343.25" cy="248.94" r="3.0" fill="#fff" stroke="#ff0000" stroke-width="1.95"/>
<circle cx="365.33" cy="242.03" r="3.0" fill="#fff" stroke="#ff0000" stroke-width="1.95"/>
<circle cx="387.40" cy="235.22" r="3.0" fill="#fff" stroke="#ff0000" stroke-width="1.95"/>
<circle cx="409.48" cy="228.52" r="3.0" fill="#fff" stroke="#ff0000" stroke-width="1.95"/>
<circle cx="431.55" cy="221.28" r="3.0" fill="#fff" stroke="#ff0000" stroke-width="1.95"/>
<circle cx="453.62" cy="214.04" r="3.0" fill="#fff" stroke="#ff0000" stroke-width="1.95"/>
<circle cx="475.70" cy="206.70" r="3.0" fill="#fff" stroke="#ff0000" stroke-width="1.95"/>
<circle cx="497.78" cy="199.36" r="3.0" fill="#fff" stroke="#ff0000" stroke-width="1.95"/>
<circle cx="519.85" cy="192.34" r="3.0" fill="#fff" stroke="#ff0000" stroke-width="1.95"/>
<circle cx="541.92" cy="186.59" r="3.0" fill="#fff" stroke="#ff0000" stroke-width="1.95"/>
<circle cx="564.00" cy="179.57" r="3.0" fill="#fff" stroke="#ff0000" stroke-width="1.95"/>
<circle cx="586.08" cy="172.76" r="3.0" fill="#fff" stroke="#ff0000" stroke-width="1.95"/>
<circle cx="608.15" cy="165.74" r="3.0" fill="#fff" stroke="#ff0000" stroke-width="1.95"/>
<circle cx="630.23" cy="158.72" r="3.0" fill="#fff" stroke="#ff0000" stroke-width="1.95"/>
</g>
<g stroke="#000" stroke-width="1.15" fill="none" stroke-linecap="butt">
<rect x="78.4" y="0.7" width="567.7" height="345.40000000000003" stroke-width="1.45"/>
<path d="M133.39 346.1V342.5M133.39 0.7V4.3"/>
<path d="M188.57 346.1V340.3M188.57 0.7V6.5"/>
<path d="M243.76 346.1V342.5M243.76 0.7V4.3"/>
<path d="M298.95 346.1V340.3M298.95 0.7V6.5"/>
<path d="M354.14 346.1V342.5M354.14 0.7V4.3"/>
<path d="M409.32 346.1V340.3M409.32 0.7V6.5"/>
<path d="M464.51 346.1V342.5M464.51 0.7V4.3"/>
<path d="M519.70 346.1V340.3M519.70 0.7V6.5"/>
<path d="M574.89 346.1V342.5M574.89 0.7V4.3"/>
<path d="M630.08 346.1V340.3M630.08 0.7V6.5"/>
<path d="M78.4 319.70H82.0M646.1 319.70H642.5"/>
<path d="M78.4 293.10H84.2M646.1 293.10H640.3000000000001"/>
<path d="M78.4 266.50H82.0M646.1 266.50H642.5"/>
<path d="M78.4 239.90H84.2M646.1 239.90H640.3000000000001"/>
<path d="M78.4 213.30H82.0M646.1 213.30H642.5"/>
<path d="M78.4 186.70H84.2M646.1 186.70H640.3000000000001"/>
<path d="M78.4 160.10H82.0M646.1 160.10H642.5"/>
<path d="M78.4 133.50H84.2M646.1 133.50H640.3000000000001"/>
<path d="M78.4 106.90H82.0M646.1 106.90H642.5"/>
<path d="M78.4 80.30H84.2M646.1 80.30H640.3000000000001"/>
<path d="M78.4 53.70H82.0M646.1 53.70H642.5"/>
<path d="M78.4 27.10H84.2M646.1 27.10H640.3000000000001"/>
</g>
<g font-family="Liberation Serif, serif" font-size="25" fill="#000" stroke="#000" stroke-width="0.25">
<text transform="translate(78.50 369.6) scale(0.945 1)" text-anchor="middle">0</text>
<text transform="translate(188.88 369.6) scale(0.945 1)" text-anchor="middle">50</text>
<text transform="translate(299.25 369.6) scale(0.945 1)" text-anchor="middle">100</text>
<text transform="translate(409.62 369.6) scale(0.945 1)" text-anchor="middle">150</text>
<text transform="translate(520.00 369.6) scale(0.945 1)" text-anchor="middle">200</text>
<text transform="translate(630.38 369.6) scale(0.945 1)" text-anchor="middle">250</text>
<text transform="translate(72.2 355.20) scale(0.945 1)" text-anchor="end">0.0</text>
<text transform="translate(72.2 302.00) scale(0.945 1)" text-anchor="end">0.5</text>
<text transform="translate(72.2 248.80) scale(0.945 1)" text-anchor="end">1.0</text>
<text transform="translate(72.2 195.60) scale(0.945 1)" text-anchor="end">1.5</text>
<text transform="translate(72.2 142.40) scale(0.945 1)" text-anchor="end">2.0</text>
<text transform="translate(72.2 89.20) scale(0.945 1)" text-anchor="end">2.5</text>
<text transform="translate(72.2 36.00) scale(0.945 1)" text-anchor="end">3.0</text>
</g>
<g font-family="Liberation Serif, serif" font-size="30.5" fill="#000" stroke="#000" stroke-width="0.3">
<text transform="translate(325.7 401.5) scale(1 0.7692)" font-size="39.65" stroke="none" font-style="italic">T</text>
<text x="353.5" y="401.2" font-size="31.5">(</text>
<text transform="translate(362.9 401.5) scale(1 0.9009)" font-size="33.86" stroke="none" >K</text>
<text x="386.6" y="401.2" font-size="31.5">)</text>
<g transform="translate(26.8 303) rotate(-90)" stroke="none">
<text x="-2.6" y="0">1</text>
<path d="M15.9 7.0L27.3 -24.0" stroke="#000" stroke-width="1.5" fill="none"/>
<g fill="none" stroke="#000" stroke-linecap="round" stroke-linejoin="round">
<path d="M46.8 -13.75L29.6 5.3" stroke-width="1.15"/>
<path d="M30.8 -12.2C31.4 -13.9 34.9 -14.6 36.3 -12.3" stroke-width="1.5"/>
<path d="M36.3 -12.3C37.6 -9.5 40.4 -0.5 41.9 3.2" stroke-width="2.5"/>
<path d="M41.9 3.2C42.9 5.9 45.3 6.0 46.0 3.7" stroke-width="1.5"/>
</g>
<text x="54.6" y="-0.6" font-size="33.5">(</text>
<path d="M70.3 -14.6L84.7 -0.2M70.3 -0.2L84.7 -14.6" stroke="#000" stroke-width="1.5" fill="none"/>
<text x="88.0" y="0">10</text>
<text x="122.0" y="-11.8" font-size="20">3</text>
<text x="141.0" y="0">mol/emu</text>
<text x="249.3" y="-0.6" font-size="33.5">)</text>
</g>
</g>
<rect x="151.6" y="25.9" width="183.25000000000003" height="160.15" fill="#fff" stroke="none"/>
<g stroke="#000" stroke-width="1.4" fill="none">
<rect x="151.6" y="25.9" width="183.25" height="160.15" stroke-width="1.6"/>
<path d="M177.78 186.05V180.25M177.78 25.9V31.7"/>
<path d="M203.96 186.05V182.25M203.96 25.9V29.7"/>
<path d="M230.14 186.05V180.25M230.14 25.9V31.7"/>
<path d="M256.31 186.05V182.25M256.31 25.9V29.7"/>
<path d="M282.49 186.05V180.25M282.49 25.9V31.7"/>
<path d="M308.67 186.05V182.25M308.67 25.9V29.7"/>
<path d="M151.6 159.36H155.4M334.85 159.36H331.05"/>
<path d="M151.6 132.67H157.4M334.85 132.67H329.05"/>
<path d="M151.6 105.98H155.4M334.85 105.98H331.05"/>
<path d="M151.6 79.28H157.4M334.85 79.28H329.05"/>
<path d="M151.6 52.59H155.4M334.85 52.59H331.05"/>
</g>
<g fill="#0000ff">
<circle cx="170.8" cy="45.35" r="4.45"/>
<circle cx="170.8" cy="106.0" r="4.45"/>
<circle cx="236.2" cy="147.75" r="4.45"/>
<circle cx="308.3" cy="180.8" r="4.45"/>
</g>
<g font-family="Liberation Serif, serif" font-size="17.2" fill="#000" stroke="#000" stroke-width="0.25">
<text x="178.08" y="204.3" text-anchor="middle">6</text>
<text x="230.44" y="204.3" text-anchor="middle">8</text>
<text x="282.79" y="204.3" text-anchor="middle">10</text>
<text x="335.15" y="204.3" text-anchor="middle">12</text>
<text x="146.2" y="192.25" text-anchor="end">0</text>
<text x="146.2" y="138.87" text-anchor="end">5</text>
<text x="146.2" y="85.48" text-anchor="end">10</text>
<text x="146.2" y="32.10" text-anchor="end">15</text>
</g>
<g font-family="Liberation Serif, serif" fill="#000">
<text x="218" y="232.6" font-size="20" font-style="italic">c</text>
<text x="229.6" y="228.3" font-size="13">*</text>
<text x="239.9" y="232.6" font-size="20">(Å)</text>
<g transform="translate(115.6 133.2) rotate(-90)" font-size="18.2">
<text x="0" y="0" font-style="italic">T</text>
<text x="10.6" y="3.8" font-size="14">N</text>
<text x="27.6" y="0" font-size="18.8">(K)</text>
</g>
<text x="94.6" y="27.8" font-size="20.5" stroke="#000" stroke-width="0.25">(d)</text>
</g>
<g fill="#0000ff" stroke="#0000ff" stroke-width="0.3" font-family="Liberation Serif, serif" font-size="20">
<text x="376.70" y="95.0">MLH-Li</text>
<text x="447.00" y="99.4" font-size="14">0.56</text>
<text x="473.60" y="95.0">RuCl</text>
<text x="517.70" y="99.4" font-size="14">3</text>
<circle cx="532.60" cy="89.8" r="1.15"/>
<text x="538.60" y="95.0" letter-spacing="0.55">1.3H</text>
<text x="580.90" y="99.4" font-size="14">2</text>
<text x="588.20" y="95.0">O</text>
</g>
<g fill="#ff0000" stroke="#ff0000" stroke-width="0.3" font-family="Liberation Serif, serif" font-size="20">
<text x="409.90" y="248.8">BLH-Li</text>
<text x="475.30" y="253.20000000000002" font-size="14">0.56</text>
<text x="502.90" y="248.8">RuCl</text>
<text x="546.60" y="253.20000000000002" font-size="14">3</text>
<circle cx="561.10" cy="243.60000000000002" r="1.15"/>
<text x="567.50" y="248.8" letter-spacing="0.55">3.9H</text>
<text x="609.90" y="253.20000000000002" font-size="14">2</text>
<text x="617.10" y="248.8">O</text>
</g>
<g fill="#000" stroke="#000" stroke-width="0.3" font-family="Liberation Serif, serif" font-size="20"><text x="409.8" y="307.4">RuCl</text><text x="453.0" y="311.6" font-size="14">3</text></g>
</svg>
</body></html>
